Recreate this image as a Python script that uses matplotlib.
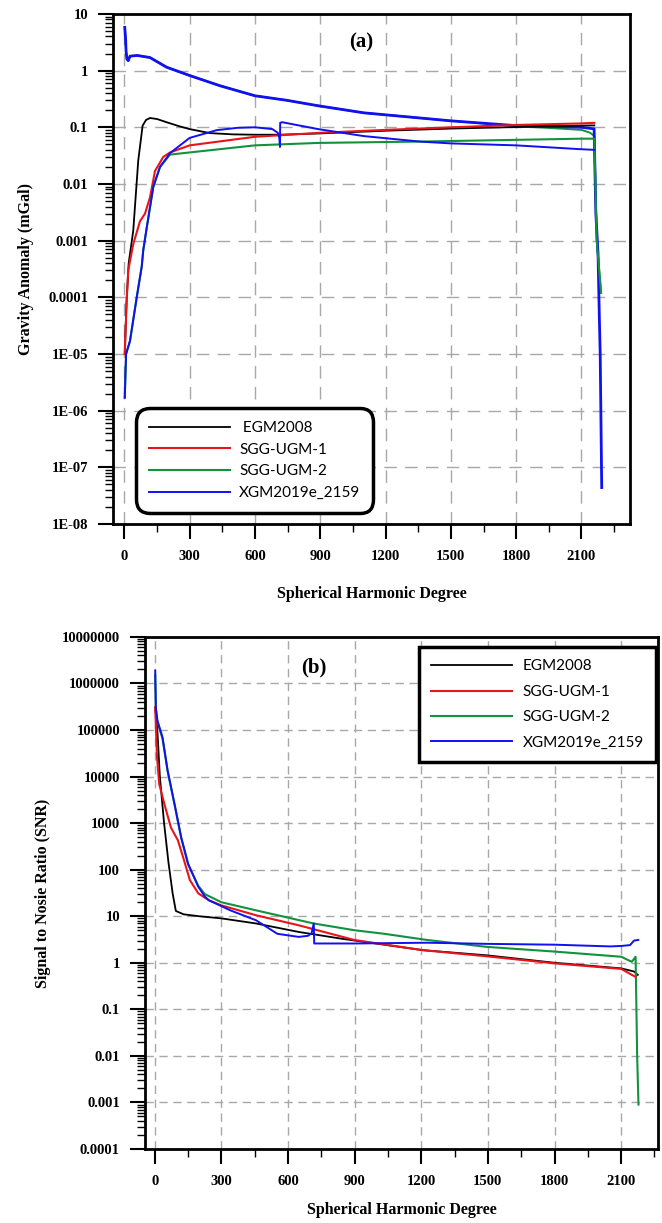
import matplotlib
matplotlib.use('Agg')
import matplotlib.pyplot as plt
from matplotlib.ticker import FixedLocator, LogLocator, NullFormatter

# ---- panel (a): gravity anomaly degree amplitudes (mGal) ----
a_egm_deg = [2, 10, 20, 41, 64, 84, 100, 118, 150, 194, 250, 300, 393, 500, 600, 715, 900, 1200, 1500, 1800, 2100, 2159]
a_egm_val = [1e-5, 8e-5, 4e-4, 1.5e-3, 0.026, 0.107, 0.135, 0.146, 0.14, 0.123, 0.105, 0.093, 0.079, 0.075,
             0.074, 0.074, 0.078, 0.087, 0.095, 0.101, 0.107, 0.108]

a_ugm1_deg = [2, 11, 18, 41, 72, 95, 118, 141, 179, 210, 300, 600, 900, 1200, 1500, 1800, 2100, 2159]
a_ugm1_val = [1e-5, 9e-5, 3e-4, 8.7e-4, 2.2e-3, 3e-3, 5.8e-3, 0.017, 0.03, 0.036, 0.048, 0.068, 0.08,
              0.09, 0.1, 0.11, 0.117, 0.12]

a_ugm2_deg = [2, 8, 26, 57, 80, 87, 103, 133, 164, 210, 300, 600, 890, 1358, 2100, 2159, 2170, 2190]
a_ugm2_val = [1.7e-6, 1e-5, 1.7e-5, 1e-4, 3.5e-4, 6.8e-4, 1.7e-3, 8.9e-3, 0.02, 0.033, 0.036, 0.048,
              0.053, 0.056, 0.063, 0.063, 1e-3, 1.2e-4]
a_ugm2_sig_deg = [2, 6, 8, 12, 18, 26, 60, 118, 194, 300, 440, 600, 745, 890, 1100, 1358, 1500, 1800,
                  2000, 2100, 2140, 2159, 2170, 2190]
a_ugm2_sig_val = [5.8, 3.5, 2.2, 1.6, 1.5, 1.8, 1.85, 1.7, 1.15, 0.82, 0.54, 0.36, 0.30, 0.24, 0.18,
                  0.146, 0.13, 0.105, 0.095, 0.09, 0.08, 0.07, 1e-3, 1.2e-4]

a_xgm_deg = [2, 8, 26, 57, 80, 87, 103, 133, 164, 210, 300, 424, 520, 600, 680, 705, 712, 715, 716, 725,
             890, 1100, 1358, 1500, 1800, 2100, 2159]
a_xgm_val = [1.7e-6, 1e-5, 1.7e-5, 1e-4, 3.5e-4, 6.8e-4, 1.7e-3, 8.9e-3, 0.02, 0.035, 0.065, 0.089,
             0.098, 0.1, 0.093, 0.08, 0.065, 0.045, 0.12, 0.123, 0.093, 0.07, 0.056, 0.052, 0.048,
             0.041, 0.04]
a_xgm_sig_deg = [2, 6, 8, 12, 18, 26, 60, 118, 194, 300, 440, 600, 745, 890, 1100, 1358, 1500, 1800,
                 2100, 2158, 2166, 2176, 2182, 2186, 2193]
a_xgm_sig_val = [5.8, 3.5, 2.2, 1.6, 1.5, 1.8, 1.85, 1.7, 1.15, 0.82, 0.54, 0.36, 0.30, 0.24, 0.18,
                 0.146, 0.13, 0.107, 0.1, 0.094, 3e-3, 6e-4, 4.5e-5, 1e-5, 4.4e-8]

# ---- panel (b): signal to noise ratio ----
b_egm_deg = [2, 10, 23, 42, 62, 81, 95, 130, 200, 300, 456, 648, 840, 1206, 1494, 1802, 2100, 2158, 2175]
b_egm_val = [3e5, 1.4e5, 1e4, 1000, 140, 30, 13, 11, 10, 9, 7, 4.6, 3.3, 1.87, 1.45, 1.0, 0.76, 0.65, 0.55]

b_ugm1_deg = [2, 10, 20, 43, 73, 104, 127, 158, 196, 244, 302, 456, 648, 898, 1206, 1494, 1802, 2100,
              2148, 2165]
b_ugm1_val = [3.1e5, 2.7e4, 7000, 2600, 800, 430, 190, 60, 31, 22, 17, 10.5, 6.4, 3.1, 1.87, 1.38,
              0.97, 0.74, 0.55, 0.5]

b_ugm2_deg = [2, 5, 12, 35, 58, 89, 119, 150, 196, 225, 300, 456, 715, 900, 1033, 1225, 1494, 1802,
              2100, 2148, 2165, 2172, 2178]
b_ugm2_val = [1.5e6, 2.8e5, 1.5e5, 6.5e4, 1.3e4, 2500, 480, 130, 45, 30, 20, 13.4, 7, 5, 4.2, 3.1, 2.2,
              1.74, 1.35, 1.05, 1.35, 1e-2, 9e-4]

b_xgm_deg = [2, 5, 12, 35, 58, 89, 119, 150, 196, 227, 244, 340, 456, 552, 648, 690, 706, 716, 718,
             900, 1225, 1500, 1800, 2050, 2100, 2140, 2158, 2177]
b_xgm_val = [1.9e6, 3e5, 1.6e5, 7e4, 1.35e4, 2600, 500, 135, 43, 26, 22, 13.4, 8.2, 4.2, 3.6, 3.8, 4.3,
             7, 2.6, 2.6, 2.7, 2.55, 2.45, 2.25, 2.3, 2.4, 3.0, 3.1]

labels = ['EGM2008', 'SGG-UGM-1', 'SGG-UGM-2', 'XGM2019e_2159']
colors = ['black', '#e8141b', '#13923e', '#1010f0']

x_ticks = [0, 300, 600, 900, 1200, 1500, 1800, 2100]
a_yticks = [10, 1, 0.1, 0.01, 0.001, 0.0001, 1e-5, 1e-6, 1e-7, 1e-8]
a_ylabels = ['10', '1', '0.1', '0.01', '0.001', '0.0001', '1E-05', '1E-06', '1E-07', '1E-08']
b_yticks = [1e7, 1e6, 1e5, 1e4, 1e3, 100, 10, 1, 0.1, 0.01, 0.001, 0.0001]
b_ylabels = ['10000000', '1000000', '100000', '10000', '1000', '100', '10', '1', '0.1', '0.01',
             '0.001', '0.0001']

serif = 'Liberation Serif'
fig = plt.figure(figsize=(6.62, 12.23), dpi=100)
ax1 = fig.add_axes([0.1707, 0.5715, 0.781, 0.4171])
ax2 = fig.add_axes([0.219, 0.0605, 0.775, 0.4187])


def style_axis(ax, yticks, ylabels, dash):
    ax.set_yscale('log')
    ax.set_xticks(x_ticks)
    ax.set_xticklabels([str(t) for t in x_ticks], fontfamily=serif, fontweight='bold', fontsize=10.5)
    ax.xaxis.set_minor_locator(FixedLocator(list(range(150, 2400, 300))))
    ax.set_yticks(yticks)
    ax.set_yticklabels(ylabels, fontfamily=serif, fontweight='bold', fontsize=10.5)
    ax.yaxis.set_minor_locator(LogLocator(base=10, subs=range(2, 10), numticks=30))
    ax.yaxis.set_minor_formatter(NullFormatter())
    ax.tick_params(which='major', direction='out', length=11, width=1.5, pad=7)
    ax.tick_params(which='minor', direction='out', length=6, width=1.0)
    ax.tick_params(axis='x', which='major', pad=8)
    ax.grid(True, which='major', color='#a8a8a8', linewidth=1.0, linestyle=dash)
    for s in ax.spines.values():
        s.set_linewidth(2.0)


# panel (a)
ax1.plot(a_ugm2_sig_deg, a_ugm2_sig_val, color=colors[2], lw=1.4)
ax1.plot(a_xgm_sig_deg, a_xgm_sig_val, color=colors[3], lw=2.0)
ax1.plot(a_egm_deg, a_egm_val, color=colors[0], lw=1.3, label=' ' + labels[0])
ax1.plot(a_ugm1_deg, a_ugm1_val, color=colors[1], lw=1.5, label=labels[1])
ax1.plot(a_ugm2_deg, a_ugm2_val, color=colors[2], lw=1.5, label=labels[2])
ax1.plot(a_xgm_deg, a_xgm_val, color=colors[3], lw=1.4, label=labels[3])
ax1.set_xlim(-52, 2323)
ax1.set_ylim(1e-8, 10)
style_axis(ax1, a_yticks, a_ylabels, (0, (9, 6)))
ax1.set_xlabel('Spherical Harmonic Degree', fontfamily=serif, fontweight='bold', fontsize=11.5, labelpad=16)
ax1.set_ylabel('Gravity Anomaly (mGal)', fontfamily=serif, fontweight='bold', fontsize=11.5, labelpad=10)
ax1.text(0.48, 0.945, '(a)', transform=ax1.transAxes, fontfamily=serif, fontweight='bold',
         fontsize=15, ha='center', va='center')
leg1 = ax1.legend(loc='lower left', bbox_to_anchor=(0.0445, 0.0216), borderaxespad=0,
                  prop={'family': 'Lato', 'size': 11}, handlelength=5.3, handletextpad=0.6,
                  labelspacing=0.5, borderpad=0.85, fancybox=True, framealpha=1, edgecolor='black')
leg1.get_frame().set_boxstyle('round', pad=0, rounding_size=0.9)
leg1.get_frame().set_linewidth(2.5)

# panel (b)
ax2.plot(b_egm_deg, b_egm_val, color=colors[0], lw=1.3, label=labels[0])
ax2.plot(b_ugm2_deg, b_ugm2_val, color=colors[2], lw=1.5, label=labels[2])
ax2.plot(b_ugm1_deg, b_ugm1_val, color=colors[1], lw=1.5, label=labels[1])
ax2.plot(b_xgm_deg, b_xgm_val, color=colors[3], lw=1.4, label=labels[3])
ax2.set_xlim(-44, 2266)
ax2.set_ylim(1e-4, 1e7)
style_axis(ax2, b_yticks, b_ylabels, (0, (6, 4)))
ax2.set_xlabel('Spherical Harmonic Degree', fontfamily=serif, fontweight='bold', fontsize=11.5, labelpad=10)
ax2.set_ylabel('Signal to Nosie Ratio (SNR)', fontfamily=serif, fontweight='bold', fontsize=11.5, labelpad=8)
ax2.text(0.33, 0.941, '(b)', transform=ax2.transAxes, fontfamily=serif, fontweight='bold',
         fontsize=15, ha='center', va='center')
h, l = ax2.get_legend_handles_labels()
order = [0, 2, 1, 3]
leg2 = ax2.legend([h[i] for i in order], [l[i] for i in order], loc='upper right',
                  bbox_to_anchor=(0.996, 0.980), borderaxespad=0,
                  prop={'family': 'Lato', 'size': 11}, handlelength=5.3, handletextpad=0.7,
                  labelspacing=0.75, borderpad=0.8, fancybox=False, framealpha=1, edgecolor='black')
leg2.get_frame().set_linewidth(2.5)

fig.savefig('out.png', dpi=100)
